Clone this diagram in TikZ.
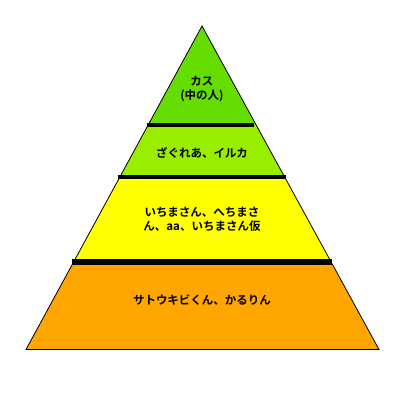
\documentclass[tikz,border=0pt]{standalone}
\usepackage{fontspec}
\usepackage{xcolor}
\usepackage{tikz}
\usetikzlibrary{calc}
\newfontfamily\jpfont{Noto Sans CJK JP}[BoldFont={Noto Sans CJK JP Bold}]

\definecolor{topgreen}{RGB}{102,221,0}
\definecolor{limegreen}{RGB}{153,238,0}
\definecolor{tieryellow}{RGB}{255,255,0}
\definecolor{tierorange}{RGB}{255,166,0}

\begin{document}
\begin{tikzpicture}[x=1pt, y=-1pt,
    label/.style={font=\jpfont\bfseries\fontsize{11.5}{13.5}\selectfont, align=center, inner sep=0pt},
    bar/.style={line width=4.5pt, black}]
        \useasboundingbox (0,0) rectangle (400,400);
        \coordinate (apex) at (202,26);
        \coordinate (bl) at (26,349.5);
        \coordinate (br) at (379,349.5);

        % tier borders
        \coordinate (l1) at ($(apex)!0.3065!(bl)$);
        \coordinate (r1) at ($(apex)!0.3065!(br)$);
        \coordinate (l2) at ($(apex)!0.4675!(bl)$);
        \coordinate (r2) at ($(apex)!0.4675!(br)$);
        \coordinate (l3) at ($(apex)!0.7307!(bl)$);
        \coordinate (r3) at ($(apex)!0.7307!(br)$);

        \fill[topgreen] (apex) -- (r1) -- (l1) -- cycle;
        \fill[limegreen] (l1) -- (r1) -- (r2) -- (l2) -- cycle;
        \fill[tieryellow] (l2) -- (r2) -- (r3) -- (l3) -- cycle;
        \fill[tierorange] (l3) -- (r3) -- (br) -- (bl) -- cycle;
        \draw[line width=0.8pt] (apex) -- (br) -- (bl) -- cycle;

        \draw[bar] ($(l1)+(-1,0)$) -- ($(r1)+(-2,0)$);
        \draw[bar] ($(l2)+(-2,0)$) -- ($(r2)+(1,0)$);
        \draw[bar, line width=6pt] ($(l3)+(-1.5,0)$) -- ($(r3)+(1,0)$);

        \node[label] (top) at (202,89) {カス\\(中の人)};
        \node[label] (second) at (202,153) {ざぐれあ、イルカ};
        \node[label] (third) at (202,219.5) {いちまさん、へちまさ\\ん、aa、いちまさん仮};
        \node[label] (base) at (202,300) {サトウキビくん、かるりん};
    \end{tikzpicture}
\end{document}
